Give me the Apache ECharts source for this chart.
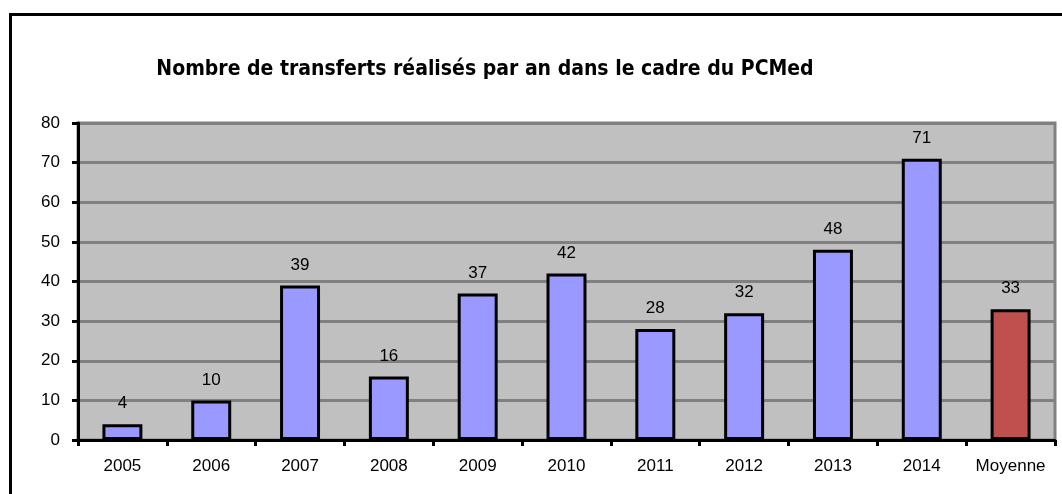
<!DOCTYPE html>
<html><head><meta charset="utf-8">
<script src="https://cdn.jsdelivr.net/npm/echarts@6/dist/echarts.min.js"></script>
<style>html,body{margin:0;padding:0;background:#fff}#c{width:1062px;height:494px}</style>
</head><body><div id="c"></div>
<script>
var categories = ['2005','2006','2007','2008','2009','2010','2011','2012','2013','2014','Moyenne'];
var values = [4,10,39,16,37,42,28,32,48,71,33];
var yTicks = [0,10,20,30,40,50,60,70,80];
var title = 'Nombre de transferts réalisés par an dans le cadre du PCMed';

var chart = echarts.init(document.getElementById('c'));
chart.setOption({
  animation: false,
  backgroundColor: '#fff',
  title: {
    text: title, left: 480, top: 54, textAlign: 'center',
    textStyle: {fontFamily: 'DejaVu Sans Condensed', fontWeight: 'bold', fontSize: 21, color: '#000'}
  },
  graphic: [{
    type: 'rect', silent: true, z: 100,
    shape: {x: 10.5, y: 14.5, width: 1100, height: 600},
    style: {fill: 'none', stroke: '#000', lineWidth: 3}
  }],
  grid: {left: 78, right: 7, top: 123, bottom: 54, show: true, backgroundColor: '#c0c0c0', borderColor: '#808080', borderWidth: 3},
  xAxis: {
    type: 'category', data: categories,
    axisLine: {lineStyle: {color: '#000', width: 3}},
    axisTick: {show: true, length: 6, lineStyle: {color: '#000', width: 3}},
    axisLabel: {color: '#000', fontFamily: 'Liberation Sans', fontSize: 17, margin: 18, interval: 0}
  },
  yAxis: {
    type: 'value', min: yTicks[0], max: yTicks[yTicks.length-1], interval: 10,
    axisLine: {show: true, lineStyle: {color: '#000', width: 3}},
    axisTick: {show: true, length: 6, lineStyle: {color: '#000', width: 3}},
    splitLine: {lineStyle: {color: '#808080', width: 3}},
    axisLabel: {color: '#000', fontFamily: 'Liberation Sans', fontSize: 17, margin: 18}
  },
  series: [{
    type: 'bar', barWidth: '45%',
    data: values.map(function(v, i){
      return {value: v, itemStyle: {color: i === values.length-1 ? '#c0504d' : '#9999ff'}};
    }),
    itemStyle: {borderColor: '#000', borderWidth: 3},
    label: {show: true, position: 'top', distance: 12, color: '#000', fontFamily: 'Liberation Sans', fontSize: 17}
  }]
});
</script></body></html>
